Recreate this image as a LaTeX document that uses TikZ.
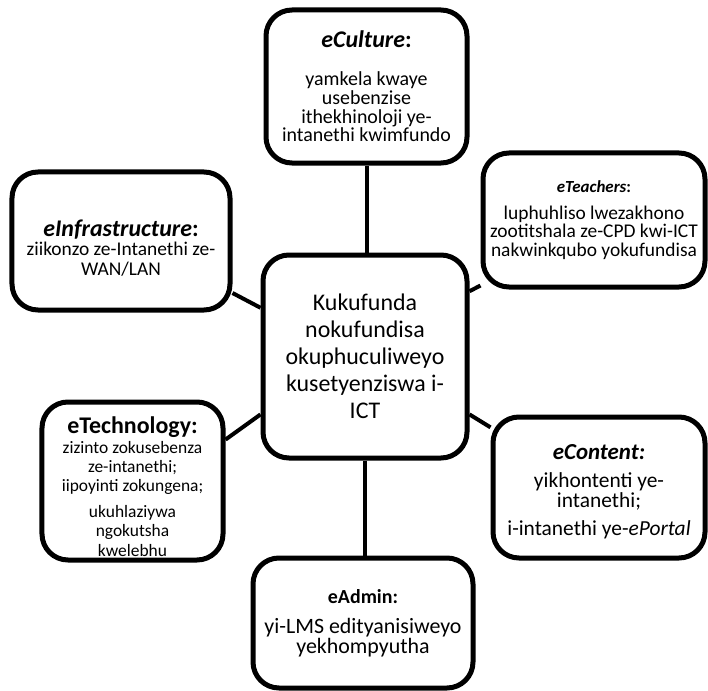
\documentclass[tikz,border=0pt]{standalone}
\usepackage{fontspec}
\setmainfont{Carlito}
\usepackage{xcolor}
\usepackage{tikz}
\usetikzlibrary{backgrounds}

\newcommand{\hd}[2][24]{{\fontsize{#1}{#1}\selectfont\textbf{#2}}}

\begin{document}
\begin{tikzpicture}[x=1bp, y=-1bp,
    idea/.style={draw, line width=5bp, rounded corners=26bp, fill=white, align=center, inner sep=0pt},
    link/.style={line width=4bp}]
    % Cadre
    \useasboundingbox (0,0) rectangle (708,691);

    % Noeud central
    \node[idea, minimum width=204bp, minimum height=203bp, font=\fontsize{24}{27}\selectfont] (centre) at (365,356.5)
        {Kukufunda\\ nokufundisa\\ okuphuculiweyo\\ kusetyenziswa i-\\ ICT};

    % Bulles autour
    \node[idea, minimum width=201bp, minimum height=153bp, font=\fontsize{20}{18.8}\selectfont] (culture) at (366.5,86.5)
        {\hd{\textit{eCulture}:}\\[19bp] yamkela kwaye\\ usebenzise\\ ithekhinoloji ye-\\ intanethi kwimfundo};
    \node[idea, minimum width=222bp, minimum height=134bp, font=\fontsize{19.5}{18.5}\selectfont] (teachers) at (594,220)
        {\hd[17]{\textit{eTeachers}:}\\[8bp] luphuhliso lwezakhono\\ zootitshala ze-CPD kwi-ICT\\ nakwinkqubo yokufundisa};
    \node[idea, minimum width=218bp, minimum height=138bp, font=\fontsize{19.5}{19.5}\selectfont] (infra) at (121,241)
        {\rule{0pt}{30bp}\hd{\textit{eInfrastructure}:}\\ ziikonzo ze-Intanethi ze-\\ WAN/LAN};
    \node[idea, minimum width=181bp, minimum height=158bp, font=\fontsize{17.5}{19.5}\selectfont] (tech) at (132.5,481)
        {\rule{0pt}{28bp}\hd{eTechnology:}\\ zizinto zokusebenza\\ ze-intanethi;\\ iipoyinti zokungena;\\[6bp] ukuhlaziywa\\ ngokutsha\\ kwelebhu};
    \node[idea, minimum width=212bp, minimum height=141bp, font=\fontsize{21.5}{20}\selectfont] (content) at (599,487.5)
        {\rule{0pt}{24bp}\hd[23]{\textit{eContent:}}\\[8bp] yikhontenti ye-\\ intanethi;\\[8bp] i-intanethi ye-\textit{ePortal}};
    \node[idea, minimum width=220bp, minimum height=130bp, font=\fontsize{22}{20}\selectfont] (admin) at (363,623)
        {\hd[20]{eAdmin:}\\[10bp] yi-LMS edityanisiweyo\\ yekhompyutha};

    % Liens
    \begin{scope}[on background layer]
        \draw[link] (culture.south) -- (culture.south |- centre.north);
        \draw[link] (teachers.210) -- (centre.32);
        \draw[link] (infra.-25) -- (centre.155);
        \draw[link] (tech.24) -- (centre.209);
        \draw[link] (content.151) -- (centre.-29);
        \draw[link] (centre.south) -- (centre.south |- admin.north);
    \end{scope}
\end{tikzpicture}
\end{document}
